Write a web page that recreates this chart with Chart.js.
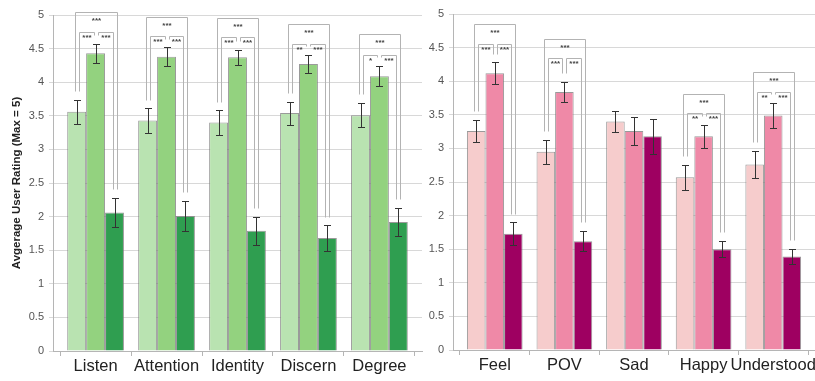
<!DOCTYPE html>
<html>
<head>
<meta charset="utf-8">
<script src="https://cdn.jsdelivr.net/npm/chart.js@4.4.1/dist/chart.umd.min.js"></script>
<style>
  html, body { margin: 0; padding: 0; background: #fff; }
  #wrap { position: relative; width: 815px; height: 381px; overflow: hidden; }
  #leftChart { position: absolute; left: 0; top: 0; }
  #rightChart { position: absolute; left: 425px; top: 0; }
</style>
</head>
<body>
<div id="wrap">
  <canvas id="leftChart" width="425" height="381"></canvas>
  <canvas id="rightChart" width="390" height="381"></canvas>
</div>
<script>
// ---- left panel (green) ----
const leftCategories = ["Listen", "Attention", "Identity", "Discern", "Degree"];
const leftValues1 = [3.56, 3.43, 3.40, 3.54, 3.51];
const leftValues2 = [4.43, 4.38, 4.37, 4.27, 4.09];
const leftValues3 = [2.06, 2.01, 1.79, 1.68, 1.92];
const leftErr1 = [0.18, 0.18, 0.18, 0.17, 0.18];
const leftErr2 = [0.14, 0.14, 0.11, 0.14, 0.15];
const leftErr3 = [0.22, 0.22, 0.21, 0.19, 0.21];
const leftOuterTop = [5.05, 4.97, 4.95, 4.86, 4.72];
const leftPairTop = [4.75, 4.69, 4.67, 4.57, 4.41];
const leftStars12 = ["***", "***", "***", "**", "*"];
const leftStars23 = ["***", "***", "***", "***", "***"];
const leftStars13 = ["***", "***", "***", "***", "***"];

// ---- right panel (pink) ----
const rightCategories = ["Feel", "POV", "Sad", "Happy", "Understood"];
const rightValues1 = [3.26, 2.95, 3.40, 2.57, 2.76];
const rightValues2 = [4.12, 3.84, 3.26, 3.18, 3.49];
const rightValues3 = [1.73, 1.62, 3.18, 1.50, 1.39];
const rightErr1 = [0.17, 0.18, 0.16, 0.19, 0.20];
const rightErr2 = [0.16, 0.15, 0.21, 0.17, 0.19];
const rightErr3 = [0.17, 0.15, 0.26, 0.12, 0.11];
const rightOuterTop = [4.85, 4.63, null, 3.81, 4.13];
const rightPairTop = [4.55, 4.35, null, 3.52, 3.84];
const rightStars12 = ["***", "***", null, "**", "**"];
const rightStars23 = ["***", "***", null, "***", "***"];
const rightStars13 = ["***", "***", null, "***", "***"];

const yTicksMax = 5;
const yTicksStep = 0.5;
const yTitle = "Avgerage User Rating (Max = 5)";

Chart.defaults.font.family = "'Liberation Sans', Arial, sans-serif";
Chart.defaults.animation = false;

// error bars + significance brackets
const extrasPlugin = {
  id: "extras",
  afterDatasetsDraw(chart, args, opts) {
    const ctx = chart.ctx;
    const yScale = chart.scales.y;
    const values = chart.data.datasets.map((ds) => ds.data.map((p) => p.y));
    const centers = chart.data.datasets.map((ds, d) =>
      chart.getDatasetMeta(d).data.map((bar) => Math.round(bar.x))
    );

    ctx.save();
    ctx.strokeStyle = "#333";
    ctx.lineWidth = 1;
    values.forEach((vals, d) => {
      vals.forEach((v, i) => {
        const e = opts.errors[d][i];
        const x = centers[d][i] + 0.5;
        const yt = Math.round(yScale.getPixelForValue(v + e)) + 0.5;
        const yb = Math.round(yScale.getPixelForValue(v - e)) + 0.5;
        ctx.beginPath();
        ctx.moveTo(x, yt);
        ctx.lineTo(x, yb);
        ctx.moveTo(x - 3.5, yt);
        ctx.lineTo(x + 3.5, yt);
        ctx.moveTo(x - 3.5, yb);
        ctx.lineTo(x + 3.5, yb);
        ctx.stroke();
      });
    });

    const drop = (d, i) =>
      Math.round(yScale.getPixelForValue(values[d][i] + opts.errors[d][i] + 0.13)) + 0.5;

    function bracket(xL, xR, top, yL, yR, label, labelOffset) {
      ctx.strokeStyle = "#b3b3b3";
      ctx.beginPath();
      ctx.moveTo(xL + 0.5, yL);
      ctx.lineTo(xL + 0.5, top);
      ctx.lineTo(xR + 0.5, top);
      ctx.lineTo(xR + 0.5, yR);
      ctx.stroke();
      ctx.fillStyle = "#444";
      ctx.font = "bold 8px 'Liberation Sans', Arial, sans-serif";
      ctx.textAlign = "center";
      ctx.textBaseline = "middle";
      ctx.fillText(label, (xL + xR) / 2 + 0.5, top + labelOffset);
    }

    opts.outerTop.forEach((outer, i) => {
      if (outer === null) return;
      const c1 = centers[0][i], c2 = centers[1][i], c3 = centers[2][i];
      const outerY = Math.round(yScale.getPixelForValue(outer)) + 0.5;
      const pairY = Math.round(yScale.getPixelForValue(opts.pairTop[i])) + 0.5;
      bracket(c1 - 2, c3 + 2, outerY, drop(0, i), drop(2, i), opts.stars13[i], 8);
      bracket(c1 + 2, c2 - 2, pairY, drop(0, i), drop(1, i), opts.stars12[i], 5.5);
      bracket(c2 + 2, c3 - 2, pairY, drop(1, i), drop(2, i), opts.stars23[i], 5.5);
    });
    ctx.restore();
  },
};

function makeDataset(values, color) {
  return {
    data: values.map((v, i) => ({ x: i, y: v })),
    backgroundColor: color,
    borderColor: "rgba(120, 120, 120, 0.75)",
    borderWidth: 1,
    categoryPercentage: 0.8,
    barPercentage: 1.0,
  };
}

function renderPanel(canvasId, cats, series, colors, extras, axisWidth, withTitle, padding, xHeight) {
  const ctx = document.getElementById(canvasId).getContext("2d");
  new Chart(ctx, {
    type: "bar",
    data: {
      datasets: series.map((vals, k) => makeDataset(vals, colors[k])),
    },
    plugins: [extrasPlugin],
    options: {
      responsive: false,
      animation: false,
      layout: { padding: padding },
      plugins: {
        legend: { display: false },
        tooltip: { enabled: false },
        extras: extras,
      },
      scales: {
        x: {
          type: "linear",
          offset: false,
          min: -0.6,
          max: 4.6,
          afterBuildTicks: (scale) => {
            scale.ticks = cats.map((c, i) => ({ value: i }));
          },
          afterFit: (scale) => {
            scale.height = xHeight;
            scale.paddingLeft = 0;
            scale.paddingRight = 0;
          },
          ticks: {
            autoSkip: false,
            maxRotation: 0,
            padding: 1,
            color: "#222",
            font: { size: 16.5 },
            callback: (value) => cats[value],
          },
          grid: {
            offset: true,
            drawOnChartArea: false,
            drawTicks: true,
            tickLength: 5,
            color: "#b5b5b5",
          },
          border: { display: true, color: "#b5b5b5" },
        },
        y: {
          min: 0,
          max: yTicksMax,
          afterFit: (scale) => {
            scale.width = axisWidth;
            scale.paddingTop = 0;
            scale.paddingBottom = 0;
          },
          ticks: {
            stepSize: yTicksStep,
            padding: 5,
            color: "#555",
            font: { size: 11 },
            callback: (value) => String(value),
          },
          grid: {
            color: "#d8d8d8",
            tickLength: 4,
          },
          border: { display: true, color: "#b5b5b5" },
          title: {
            display: withTitle,
            text: yTitle,
            color: "#222",
            font: { size: 11.5, weight: "bold" },
            padding: { top: 10, bottom: 0 },
          },
        },
      },
    },
  });
}

renderPanel(
  "leftChart",
  leftCategories,
  [leftValues1, leftValues2, leftValues3],
  ["#b9e3b1", "#93d27f", "#2f9e50"],
  {
    errors: [leftErr1, leftErr2, leftErr3],
    outerTop: leftOuterTop,
    pairTop: leftPairTop,
    stars12: leftStars12,
    stars23: leftStars23,
    stars13: leftStars13,
  },
  53,
  true,
  { top: 15, right: 3, left: 0, bottom: 0 },
  30
);

renderPanel(
  "rightChart",
  rightCategories,
  [rightValues1, rightValues2, rightValues3],
  ["#f6cccc", "#ef89a7", "#9e0061"],
  {
    errors: [rightErr1, rightErr2, rightErr3],
    outerTop: rightOuterTop,
    pairTop: rightPairTop,
    stars12: rightStars12,
    stars23: rightStars23,
    stars13: rightStars13,
  },
  28,
  false,
  { top: 14, right: 0, left: 0, bottom: 0 },
  31
);
</script>
</body>
</html>
